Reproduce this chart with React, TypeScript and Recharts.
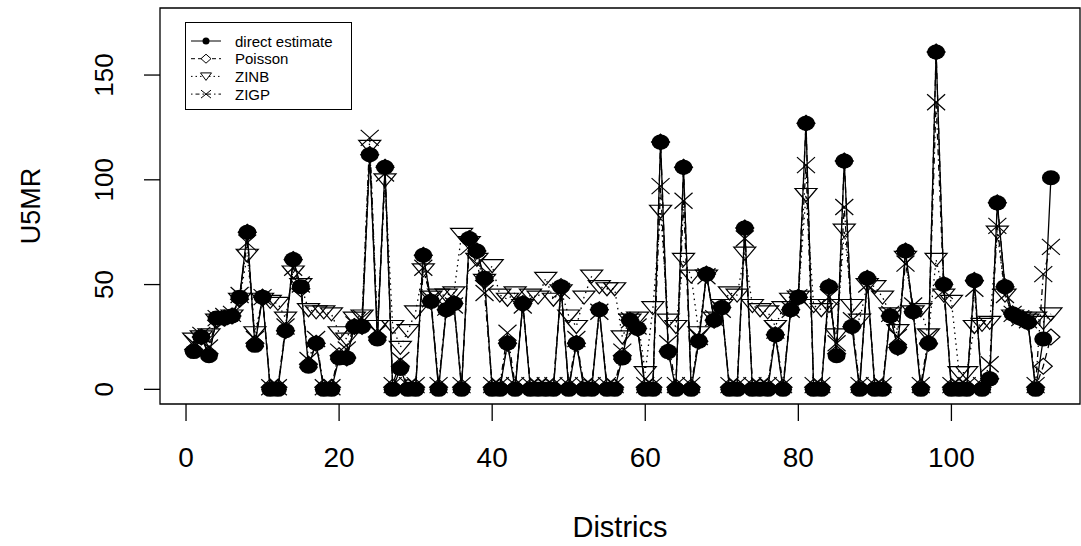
import React from 'react';
import { LineChart, Line, XAxis, YAxis, ReferenceArea } from 'recharts';

// U5MR by district: direct estimate vs. three model fits
const direct = [
  18, 25, 16, 34, 34, 35, 44, 75, 21, 44, 0, 0, 28, 62, 49, 11, 22, 0, 0, 15,
  15, 30, 30, 112, 24, 106, 0, 10, 0, 0, 64, 42, 0, 38, 41, 0, 72, 66, 53, 0,
  0, 22, 0, 41, 0, 0, 0, 0, 49, 0, 22, 0, 0, 38, 0, 0, 15, 33, 29, 0,
  0, 118, 18, 0, 106, 0, 23, 55, 33, 39, 0, 0, 77, 0, 0, 0, 26, 0, 38, 44,
  127, 0, 0, 49, 16, 109, 30, 0, 53, 0, 0, 35, 20, 66, 37, 0, 22, 161, 50, 0,
  0, 0, 52, 0, 5, 89, 49, 36, 34, 32, 0, 24, 101,
];

const poisson = [
  19, 25, 17, 33, 34, 35, 43, 75, 22, 44, 1, 1, 28, 62, 48, 12, 22, 1, 1, 16,
  15, 30, 30, 112, 25, 106, 1, 11, 1, 1, 64, 42, 1, 38, 41, 1, 72, 66, 52, 1,
  1, 22, 1, 41, 1, 1, 1, 1, 49, 1, 22, 1, 1, 38, 1, 1, 16, 33, 29, 1,
  1, 118, 18, 1, 106, 1, 23, 55, 33, 39, 1, 1, 77, 1, 1, 1, 26, 1, 38, 44,
  127, 1, 1, 49, 17, 109, 30, 1, 53, 1, 1, 35, 20, 66, 37, 1, 22, 161, 50, 1,
  1, 1, 52, 1, 5, 89, 49, 36, 34, 32, 1, 11, 25,
];

const zinb = [
  24, 25, 26, 33, 34, 35, 43, 64, 27, 43, 42, 41, 34, 56, 50, 38, 37, 37, 36, 27,
  24, 34, 35, 116, 30, 100, 30, 20, 28, 37, 57, 44, 45, 45, 46, 74, 70, 62, 52, 59,
  45, 43, 46, 40, 45, 44, 53, 43, 47, 35, 30, 44, 54, 49, 48, 48, 25, 33, 34, 8,
  39, 85, 33, 30, 62, 54, 27, 54, 34, 40, 46, 45, 65, 40, 38, 37, 30, 39, 43, 44,
  93, 40, 38, 40, 26, 76, 40, 33, 50, 49, 44, 36, 28, 63, 37, 38, 26, 62, 45, 42,
  8, 8, 30, 31, 32, 75, 45, 35, 34, 33, 34, 32, 36,
];

const zigp = [
  22, 26, 20, 34, 35, 36, 45, 70, 24, 44, 1, 1, 30, 58, 50, 14, 24, 1, 1, 18,
  19, 31, 34, 120, 27, 103, 2, 14, 2, 2, 58, 43, 2, 39, 40, 2, 68, 60, 46, 2,
  2, 27, 2, 40, 2, 2, 2, 2, 47, 2, 24, 2, 2, 37, 2, 2, 18, 33, 30, 2,
  2, 97, 22, 2, 90, 2, 25, 54, 34, 38, 2, 2, 72, 2, 2, 2, 28, 2, 38, 44,
  107, 2, 2, 44, 22, 87, 33, 2, 50, 2, 2, 36, 25, 60, 40, 2, 25, 137, 47, 2,
  2, 2, 48, 2, 12, 78, 45, 36, 34, 33, 2, 55, 68,
];

const xTicks = [0, 20, 40, 60, 80, 100];
const yTicks = [0, 50, 100, 150];

const rows = direct.map((v, i) => ({
  district: i + 1,
  direct: v,
  poisson: poisson[i],
  zinb: zinb[i],
  zigp: zigp[i],
}));

const FONT = '"Liberation Sans", Arial, Helvetica, sans-serif';
const X_DOMAIN: [number, number] = [-3.4, 116.8];
const Y_DOMAIN: [number, number] = [-7, 182];

const dotCircle = (p: any) => {
  if (p.cx == null || p.cy == null) return <g key={`c-${p.index}`} />;
  return <ellipse key={`c-${p.index}`} cx={p.cx} cy={p.cy} rx={9} ry={7.5} fill="#000" />;
};

const dotDiamond = (p: any) => {
  if (p.cx == null || p.cy == null) return <g key={`d-${p.index}`} />;
  const { cx, cy } = p;
  return (
    <polygon
      key={`d-${p.index}`}
      points={`${cx},${cy - 8} ${cx + 9},${cy} ${cx},${cy + 8} ${cx - 9},${cy}`}
      fill="none"
      stroke="#000"
      strokeWidth={1.2}
    />
  );
};

const dotTriangle = (p: any) => {
  if (p.cx == null || p.cy == null) return <g key={`t-${p.index}`} />;
  const { cx, cy } = p;
  return (
    <polygon
      key={`t-${p.index}`}
      points={`${cx - 11},${cy - 6} ${cx + 11},${cy - 6} ${cx},${cy + 7}`}
      fill="none"
      stroke="#000"
      strokeWidth={1.2}
    />
  );
};

const dotCross = (p: any) => {
  if (p.cx == null || p.cy == null) return <g key={`x-${p.index}`} />;
  const { cx, cy } = p;
  return (
    <g key={`x-${p.index}`} stroke="#000" strokeWidth={1.2}>
      <line x1={cx - 9} y1={cy - 8} x2={cx + 9} y2={cy + 8} />
      <line x1={cx - 9} y1={cy + 8} x2={cx + 9} y2={cy - 8} />
    </g>
  );
};

const XTick = (props: any) => (
  <text x={props.x} y={467} textAnchor="middle" fontFamily={FONT} fontSize={28} fill="#000">
    {props.payload.value}
  </text>
);

const YTick = (props: any) => (
  <text
    x={113}
    y={props.y}
    transform={`rotate(-90, 113, ${props.y})`}
    textAnchor="middle"
    fontFamily={FONT}
    fontSize={26}
    fill="#000"
  >
    {props.payload.value}
  </text>
);

const XTitle = () => (
  <text x={620} y={537} textAnchor="middle" fontFamily={FONT} fontSize={29} fill="#000">
    Districs
  </text>
);

const YTitle = () => (
  <text
    x={40}
    y={206}
    transform="rotate(-90, 40, 206)"
    textAnchor="middle"
    fontFamily={FONT}
    fontSize={27}
    fill="#000"
  >
    U5MR
  </text>
);

const legendItems = [
  { name: 'direct estimate', dash: undefined, kind: 'circle' },
  { name: 'Poisson', dash: '4 3', kind: 'diamond' },
  { name: 'ZINB', dash: '1.5 3', kind: 'triangle' },
  { name: 'ZIGP', dash: '1.5 3 4 3', kind: 'cross' },
];

function LegendBox() {
  return (
    <div
      style={{
        position: 'absolute',
        left: 185,
        top: 22,
        width: 165,
        height: 86,
        border: '1px solid #000',
        background: '#fff',
      }}
    >
      <svg width={165} height={86}>
        {legendItems.map((it, i) => {
          const y = 18 + i * 17.7;
          const cx = 20;
          let mark: React.ReactNode = null;
          if (it.kind === 'circle') mark = <circle cx={cx} cy={y} r={3.5} fill="#000" />;
          if (it.kind === 'diamond')
            mark = (
              <polygon
                points={`${cx},${y - 4.5} ${cx + 5},${y} ${cx},${y + 4.5} ${cx - 5},${y}`}
                fill="#fff"
                stroke="#000"
              />
            );
          if (it.kind === 'triangle')
            mark = (
              <polygon
                points={`${cx - 5.5},${y - 3.5} ${cx + 5.5},${y - 3.5} ${cx},${y + 4}`}
                fill="#fff"
                stroke="#000"
              />
            );
          if (it.kind === 'cross')
            mark = (
              <g stroke="#000">
                <line x1={cx - 5} y1={y - 4} x2={cx + 5} y2={y + 4} />
                <line x1={cx - 5} y1={y + 4} x2={cx + 5} y2={y - 4} />
              </g>
            );
          return (
            <g key={it.name}>
              <line x1={5} y1={y} x2={35} y2={y} stroke="#000" strokeDasharray={it.dash} />
              {mark}
              <text x={49} y={y + 5.5} fontFamily={FONT} fontSize={15} fill="#000">
                {it.name}
              </text>
            </g>
          );
        })}
      </svg>
    </div>
  );
}

export default function App() {
  return (
    <div style={{ position: 'absolute', left: 0, top: 0, width: 1081, height: 546, background: '#fff' }}>
      <LineChart width={1081} height={546} data={rows} margin={{ top: 8, right: 1, bottom: 0, left: 0 }}>
        <XAxis
          dataKey="district"
          type="number"
          domain={X_DOMAIN}
          allowDataOverflow
          ticks={xTicks}
          interval={0}
          height={142}
          tickSize={17}
          axisLine={false}
          tickLine={{ stroke: '#000', strokeWidth: 1.3 }}
          tick={<XTick />}
          label={<XTitle />}
        />
        <YAxis
          type="number"
          domain={Y_DOMAIN}
          allowDataOverflow
          ticks={yTicks}
          interval={0}
          width={160}
          tickSize={16}
          axisLine={false}
          tickLine={{ stroke: '#000', strokeWidth: 1.3 }}
          tick={<YTick />}
          label={<YTitle />}
        />
        <ReferenceArea
          x1={X_DOMAIN[0]}
          x2={X_DOMAIN[1]}
          y1={Y_DOMAIN[0]}
          y2={Y_DOMAIN[1]}
          fill="none"
          fillOpacity={0}
          stroke="#000"
          strokeWidth={1.3}
          ifOverflow="visible"
        />
        <Line
          dataKey="direct"
          type="linear"
          stroke="#000"
          strokeWidth={1.3}
          dot={dotCircle}
          activeDot={false}
          isAnimationActive={false}
        />
        <Line
          dataKey="poisson"
          type="linear"
          stroke="#000"
          strokeWidth={1.3}
          strokeDasharray="6 5"
          dot={dotDiamond}
          activeDot={false}
          isAnimationActive={false}
        />
        <Line
          dataKey="zinb"
          type="linear"
          stroke="#000"
          strokeWidth={1.3}
          strokeDasharray="1.5 4"
          dot={dotTriangle}
          activeDot={false}
          isAnimationActive={false}
        />
        <Line
          dataKey="zigp"
          type="linear"
          stroke="#000"
          strokeWidth={1.3}
          strokeDasharray="1.5 4 6 4"
          dot={dotCross}
          activeDot={false}
          isAnimationActive={false}
        />
      </LineChart>
      <LegendBox />
    </div>
  );
}
